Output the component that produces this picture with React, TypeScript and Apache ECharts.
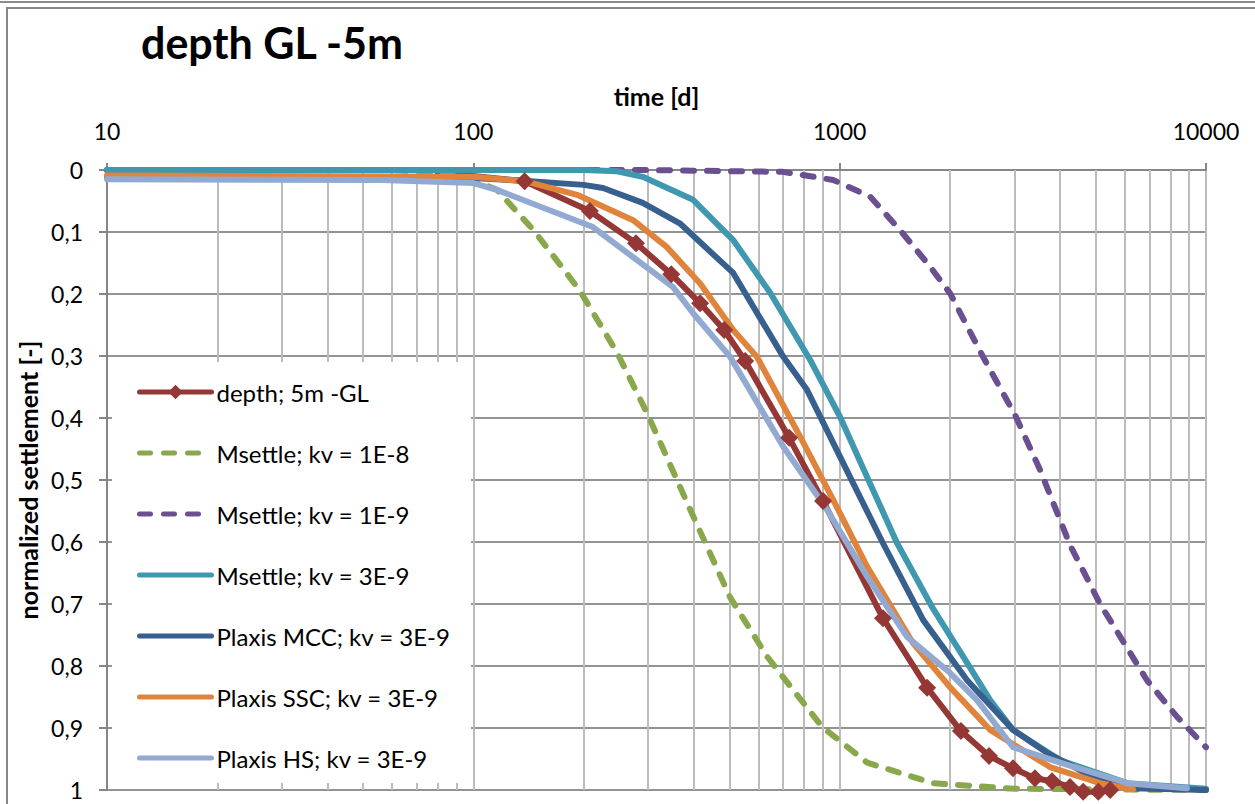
import React, { useEffect, useRef } from "react";
import * as echarts from "echarts";

const TITLE = "depth GL -5m";
const X_NAME = "time [d]";
const Y_NAME = "normalized settlement [-]";

const X_MINOR_GRID = [20, 30, 40, 50, 60, 70, 80, 90, 200, 300, 400, 500, 600, 700, 800, 900, 2000, 3000, 4000, 5000, 6000, 7000, 8000, 9000];

const NAMES = [
  "depth; 5m -GL",
  "Msettle; kv = 1E-8",
  "Msettle; kv = 1E-9",
  "Msettle; kv = 3E-9",
  "Plaxis MCC; kv = 3E-9",
  "Plaxis SSC; kv = 3E-9",
  "Plaxis HS; kv = 3E-9",
];

const COLORS = ["#953735", "#89A84C", "#6A5090", "#3F98AF", "#37608F", "#E0843C", "#92AAD2"];

const measuredT = [80, 138, 208, 278, 347, 416, 484, 552, 728, 901, 1313, 1733, 2143, 2557, 2973, 3412, 3800, 4253, 4621, 5082, 5475];
const measuredS = [0.004, 0.018, 0.066, 0.118, 0.168, 0.215, 0.258, 0.308, 0.432, 0.534, 0.723, 0.835, 0.905, 0.945, 0.965, 0.981, 0.986, 0.995, 1.003, 1.003, 1.0];

const ms8T = [10, 60, 80, 100, 116, 146, 195, 247, 298, 391, 502, 634, 895, 1189, 1800, 3000, 10000];
const ms8S = [0, 0, 0.004, 0.016, 0.032, 0.097, 0.194, 0.295, 0.392, 0.548, 0.689, 0.785, 0.898, 0.956, 0.989, 0.998, 1.0];

const ms9T = [10, 300, 700, 960, 1211, 1462, 1766, 2002, 2466, 3011, 3526, 4256, 5140, 6900, 8340, 10000];
const ms9S = [0, 0, 0.003, 0.016, 0.043, 0.097, 0.156, 0.199, 0.302, 0.395, 0.484, 0.605, 0.7, 0.823, 0.882, 0.931];

const ms3T = [10, 200, 247, 290, 398, 512, 646, 830, 1002, 1188, 1435, 1800, 2228, 2575, 2973, 4000, 6097, 10000];
const ms3S = [0, 0, 0.002, 0.011, 0.048, 0.113, 0.198, 0.306, 0.398, 0.495, 0.602, 0.708, 0.795, 0.855, 0.903, 0.952, 0.989, 0.998];

const mccT = [10, 100, 134, 200, 226, 290, 366, 512, 701, 815, 1088, 1313, 1691, 2228, 2973, 3681, 4921, 6326, 10000];
const mccS = [0.012, 0.013, 0.017, 0.024, 0.029, 0.053, 0.086, 0.166, 0.301, 0.355, 0.505, 0.602, 0.726, 0.823, 0.903, 0.94, 0.979, 0.997, 1.0];

const sscT = [10, 100, 138, 192, 273, 337, 416, 512, 594, 780, 960, 1189, 1585, 2000, 2575, 3749, 5140, 6326];
const sscS = [0.009, 0.011, 0.018, 0.04, 0.081, 0.124, 0.183, 0.258, 0.301, 0.43, 0.532, 0.64, 0.763, 0.834, 0.903, 0.963, 0.989, 0.999];

const hsT = [10, 56, 100, 116, 212, 351, 398, 502, 701, 924, 1189, 1528, 2000, 2371, 2973, 4000, 6097, 8870];
const hsS = [0.015, 0.016, 0.021, 0.032, 0.092, 0.189, 0.231, 0.301, 0.446, 0.548, 0.656, 0.753, 0.811, 0.855, 0.931, 0.956, 0.989, 0.997];

const FONT = "Lato";
const LW = 6;

function pairs(t: number[], s: number[]) {
  return t.map((x, i) => [x, s[i]]);
}

export default function App() {
  const ref = useRef<HTMLDivElement>(null);
  useEffect(() => {
    if (!ref.current) return;
    const chart = echarts.init(ref.current, undefined, { renderer: "svg" });
    const dashed = (c: string) => ({ color: c, width: LW, type: [11, 13] as any, cap: "round" as const });
    const solid = (c: string) => ({ color: c, width: LW, cap: "round" as const, join: "round" as const });

    const measuredData: any[] = pairs(measuredT, measuredS).map((p, i) =>
      i === 0 ? { value: p, symbol: "none" } : { value: p }
    );

    const option: any = {
      animation: false,
      backgroundColor: "#ffffff",
      title: {
        text: TITLE,
        left: 136,
        top: 16,
        textStyle: { fontSize: 43, fontWeight: "bold", fontFamily: FONT, color: "#000" },
      },
      grid: { left: 107, right: 49, top: 170, bottom: 14, containLabel: false },
      xAxis: {
        type: "log",
        logBase: 10,
        min: 10,
        max: 10000,
        position: "top",
        name: X_NAME,
        nameLocation: "middle",
        nameGap: 62,
        nameTextStyle: { fontWeight: "bold", fontSize: 25, fontFamily: FONT, color: "#000" },
        axisLine: { show: true, lineStyle: { color: "#868686", width: 2 } },
        axisTick: { show: true, length: 7, lineStyle: { color: "#868686", width: 2 } },
        axisLabel: { fontSize: 23, margin: 28, color: "#000", fontFamily: FONT, formatter: (v: number) => String(v) },
        splitLine: { show: true, lineStyle: { color: "#bcbcbc", width: 2 } },
      },
      yAxis: {
        type: "value",
        inverse: true,
        min: 0,
        max: 1,
        interval: 0.1,
        name: Y_NAME,
        nameLocation: "middle",
        nameGap: 66,
        nameTextStyle: { fontWeight: "bold", fontSize: 25, fontFamily: FONT, color: "#000" },
        axisLine: { show: true, lineStyle: { color: "#868686", width: 2 } },
        axisTick: { show: true, length: 8, lineStyle: { color: "#868686", width: 2 } },
        axisLabel: {
          fontSize: 23,
          margin: 24,
          color: "#000",
          fontFamily: FONT,
          formatter: (v: number) => (v === 0 || v === 1 ? String(v) : v.toFixed(1).replace(".", ",")),
        },
        splitLine: { show: true, lineStyle: { color: "#939393", width: 2 } },
      },
      legend: {
        orient: "vertical",
        left: 112,
        top: 362,
        padding: [18, 10, 10, 25],
        itemWidth: 72,
        itemHeight: 18,
        itemGap: 37,
        z: 20,
        lineStyle: { width: 5 },
        data: NAMES.map((n, i) => (i === 0 ? { name: n } : { name: n, itemStyle: { opacity: 0 } })),
        textStyle: { fontSize: 24, lineHeight: 24, fontFamily: FONT, color: "#000" },
      },
      graphic: [
        { type: "rect", z: 10, shape: { x: 112, y: 362, width: 359, height: 421 }, style: { fill: "#ffffff" } },
        { type: "rect", z: 30, shape: { x: 7, y: 8, width: 1262, height: 812 }, style: { fill: "none", stroke: "#868686", lineWidth: 2 } },
        { type: "line", z: 30, shape: { x1: 0, y1: 2, x2: 1255, y2: 2 }, style: { stroke: "#8c8c8c", lineWidth: 2 } },
      ],
      series: [
        {
          name: "minor-grid",
          type: "line",
          data: [],
          silent: true,
          markLine: {
            silent: true,
            symbol: "none",
            z: 1,
            label: { show: false },
            lineStyle: { color: "#bcbcbc", width: 2, type: "solid" },
            data: X_MINOR_GRID.map((v) => ({ xAxis: v })),
          },
        },
        {
          name: NAMES[0],
          type: "line",
          data: measuredData,
          symbol: "diamond",
          symbolSize: 18,
          clip: false,
          itemStyle: { color: COLORS[0] },
          lineStyle: solid(COLORS[0]),
        },
        { name: NAMES[1], type: "line", data: pairs(ms8T, ms8S), showSymbol: false, symbol: "none", itemStyle: { color: COLORS[1] }, lineStyle: dashed(COLORS[1]) },
        { name: NAMES[2], type: "line", data: pairs(ms9T, ms9S), showSymbol: false, symbol: "none", itemStyle: { color: COLORS[2] }, lineStyle: dashed(COLORS[2]) },
        { name: NAMES[3], type: "line", data: pairs(ms3T, ms3S), showSymbol: false, symbol: "none", itemStyle: { color: COLORS[3] }, lineStyle: solid(COLORS[3]) },
        { name: NAMES[4], type: "line", data: pairs(mccT, mccS), showSymbol: false, symbol: "none", itemStyle: { color: COLORS[4] }, lineStyle: solid(COLORS[4]) },
        { name: NAMES[5], type: "line", data: pairs(sscT, sscS), showSymbol: false, symbol: "none", itemStyle: { color: COLORS[5] }, lineStyle: solid(COLORS[5]) },
        { name: NAMES[6], type: "line", data: pairs(hsT, hsS), showSymbol: false, symbol: "none", itemStyle: { color: COLORS[6] }, lineStyle: solid(COLORS[6]) },
      ],
    };
    chart.setOption(option);
    return () => chart.dispose();
  }, []);
  return <div ref={ref} style={{ position: "fixed", left: 0, top: 0, width: 1255, height: 804 }} />;
}
